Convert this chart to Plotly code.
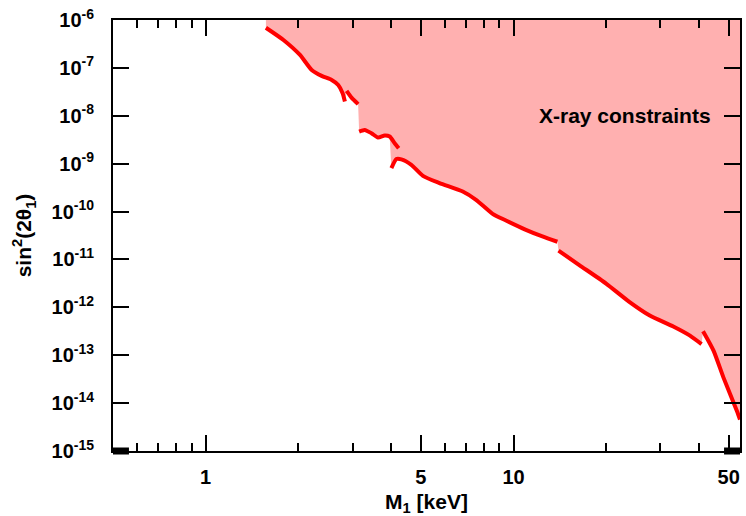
import math
import plotly.graph_objects as go

# ---- data ----
seg1_m = [1.569, 1.789, 2.025, 2.210, 2.381, 2.566, 2.695, 2.785, 2.833]
seg1_s = [6.9e-7, 3.83e-7, 1.86e-7, 9.06e-8, 6.80e-8, 5.60e-8, 4.40e-8, 2.96e-8, 1.98e-8]

seg2_m = [2.869, 2.977, 3.127]
seg2_s = [3.30e-8, 2.39e-8, 1.75e-8]

seg3_m = [3.151, 3.287, 3.455, 3.630, 3.815, 3.960, 4.111, 4.237]
seg3_s = [4.68e-9, 5.07e-9, 4.33e-9, 3.51e-9, 3.86e-9, 3.68e-9, 2.68e-9, 2.11e-9]

seg4_m = [4.011, 4.164, 4.321, 4.656, 5.077, 5.748, 6.839, 7.554, 8.551, 9.450, 10.97, 12.41, 13.88]
seg4_s = [8.07e-10, 1.25e-9, 1.23e-9, 9.45e-10, 5.57e-10, 3.93e-10, 2.62e-10, 1.76e-10,
          8.97e-11, 6.50e-11, 4.16e-11, 3.02e-11, 2.34e-11]

seg5_m = [14.00, 16.35, 19.98, 23.83, 27.70, 33.03, 37.42, 40.80]
seg5_s = [1.53e-11, 7.64e-12, 3.14e-12, 1.29e-12, 6.76e-13, 3.97e-13, 2.56e-13, 1.70e-13]

seg6_m = [41.26, 44.63, 48.08, 53.20, 54.40]
seg6_s = [3.18e-13, 1.25e-13, 3.41e-14, 6.75e-15, 4.53e-15]

x_major = [1, 5, 10, 50]
x_major_text = ["1", "5", "10", "50"]
x_minor = [0.6, 0.7, 0.8, 0.9, 2, 3, 4, 6, 7, 8, 9, 20, 30, 40]
y_exp = [-6, -7, -8, -9, -10, -11, -12, -13, -14, -15]

X_MIN, X_MAX = 0.5, 54.4
Y_MIN, Y_MAX = 1e-15, 1e-6

LINE_RED = "#ff0000"
FILL_PINK = "#ffb0b0"

segments = [(seg1_m, seg1_s), (seg2_m, seg2_s), (seg3_m, seg3_s),
            (seg4_m, seg4_s), (seg5_m, seg5_s), (seg6_m, seg6_s)]

# fill polygon: region above the constraint curve
fx, fy = [seg1_m[0]], [Y_MAX]
for i, (m, s) in enumerate(segments):
    if i == 2:
        pts = [(a, b) for a, b in zip(m, s) if a < seg4_m[0]]
    else:
        pts = list(zip(m, s))
    fx += [p[0] for p in pts]
    fy += [p[1] for p in pts]
fx += [X_MAX, X_MAX, seg1_m[0]]
fy += [Y_MAX, Y_MAX, Y_MAX]

fig = go.Figure()
fig.add_trace(go.Scatter(x=fx, y=fy, mode="lines", fill="toself",
                         fillcolor=FILL_PINK, line=dict(width=0),
                         hoverinfo="skip", showlegend=False))
for m, s in segments:
    fig.add_trace(go.Scatter(x=m, y=s, mode="lines",
                             line=dict(color=LINE_RED, width=4, shape="spline", smoothing=0.6),
                             showlegend=False))

font_family = "Liberation Sans, Arial, Helvetica, sans-serif"

fig.update_layout(
    width=746, height=516,
    margin=dict(l=113, r=4, t=20, b=65),
    paper_bgcolor="white", plot_bgcolor="white",
    font=dict(family=font_family, size=20, color="black", weight="bold"),
    showlegend=False,
)
fig.update_xaxes(
    type="log", range=[math.log10(X_MIN), math.log10(X_MAX)],
    showgrid=False, zeroline=False,
    showline=True, linecolor="black", linewidth=2, mirror="ticks",
    ticks="inside", ticklen=16, tickwidth=2, tickcolor="black",
    tickvals=x_major, ticktext=x_major_text,
    tickfont=dict(size=20, family=font_family, weight="bold"),
    ticklabelstandoff=7,
    minor=dict(tickvals=x_minor, ticks="inside", ticklen=8, tickwidth=2, tickcolor="black", showgrid=False),
    title=dict(text="M<sub>1</sub> [keV]", font=dict(size=21, family=font_family, weight="bold"), standoff=7),
)
fig.update_yaxes(
    type="log", range=[math.log10(Y_MIN), math.log10(Y_MAX)],
    showgrid=False, zeroline=False,
    showline=True, linecolor="black", linewidth=2, mirror="ticks",
    ticks="inside", ticklen=16, tickwidth=2, tickcolor="black",
    tickvals=[10.0 ** e for e in y_exp],
    ticktext=["10<sup>%d</sup>" % e for e in y_exp],
    tickfont=dict(size=20, family=font_family, weight="bold"),
    ticklabelstandoff=13,
    title=dict(text="sin<sup>2</sup>(2θ<sub>1</sub>)", font=dict(size=21, family=font_family, weight="bold"), standoff=14),
)

fig.add_annotation(x=math.log10(23), y=-8, text="X-ray constraints", showarrow=False,
                   xanchor="center", yanchor="middle",
                   font=dict(size=21, family=font_family, color="black", weight="bold"))

# small thick marks at the bottom corners
for x0, x1 in [(0, 16 / 629), (1 - 16 / 629, 1)]:
    fig.add_shape(type="rect", xref="paper", yref="paper", x0=x0, x1=x1,
                  y0=-3.5 / 431, y1=3.5 / 431, fillcolor="black", line=dict(width=0))

fig.write_html("out.html")
